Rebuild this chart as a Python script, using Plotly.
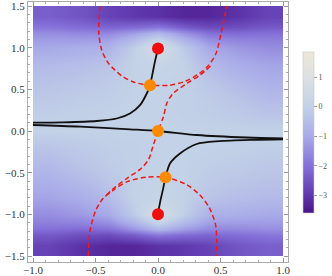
import plotly.graph_objects as go

# ---- density grid (cell edges and estimated cell values) ----
x_edges = [-1.0, -0.75, -0.5, -0.3, -0.1, 0.1, 0.3, 0.5, 0.75, 1.0]
y_edges = [-1.5, -1.25, -1.1, -0.9, -0.7, -0.5, -0.3, -0.1, 0.1, 0.3, 0.5, 0.7, 0.9, 1.1, 1.25, 1.5]
z_values = [
    [-2.8, -3.1, -3.3, -3.3, -3.1, -3.0, -2.8, -2.5, -2.3],    # y=-1.375
    [-2.0, -2.1, -2.0, -1.4, -0.7, -1.2, -1.6, -1.6, -1.5],    # y=-1.175
    [-1.5, -1.3, -1.0, -0.2, 0.8, -0.1, -0.8, -0.9, -1.0],     # y=-1.0
    [-1.1, -0.9, -0.55, 0.0, 0.15, 0.0, -0.35, -0.5, -0.6],    # y=-0.8
    [-0.85, -0.6, -0.3, 0.0, 0.05, 0.0, -0.2, -0.3, -0.4],     # y=-0.6
    [-0.6, -0.35, -0.15, -0.05, 0.0, 0.0, -0.1, -0.15, -0.25], # y=-0.4
    [-0.35, -0.2, -0.1, -0.05, 0.0, 0.0, 0.0, -0.05, -0.1],    # y=-0.2
    [0.0, 0.0, 0.0, 0.0, 0.0, 0.0, 0.0, 0.0, 0.0],             # y=0.0
    [-0.1, -0.05, 0.0, 0.0, 0.0, -0.05, -0.1, -0.2, -0.35],    # y=0.2
    [-0.25, -0.15, -0.1, 0.0, 0.0, -0.05, -0.15, -0.35, -0.6], # y=0.4
    [-0.4, -0.3, -0.2, 0.0, 0.05, 0.0, -0.3, -0.6, -0.85],     # y=0.6
    [-0.6, -0.5, -0.35, 0.0, 0.15, 0.0, -0.55, -0.9, -1.1],    # y=0.8
    [-1.0, -0.9, -0.8, -0.1, 0.8, -0.2, -1.0, -1.3, -1.5],     # y=1.0
    [-1.5, -1.6, -1.6, -1.2, -0.7, -1.4, -2.0, -2.1, -2.0],    # y=1.175
    [-2.3, -2.5, -2.8, -3.0, -3.1, -3.3, -3.3, -3.1, -2.8],    # y=1.375
]
z_min, z_max = -3.6, 1.85
cbar_ticks = [-3, -2, -1, 0, 1]

# ---- steepest-descent paths (black) ----
path_a_x = [-1.0, -0.76, -0.49, -0.33, -0.224, -0.144, -0.09, -0.064, -0.045, -0.025, 0.0]
path_a_y = [0.10, 0.104, 0.12, 0.15, 0.21, 0.31, 0.45, 0.55, 0.68, 0.83, 0.99]
path_b_x = [-1.0, -0.62, -0.224, 0.0, 0.31, 0.71, 1.0]
path_b_y = [0.072, 0.052, 0.02, 0.0, -0.048, -0.078, -0.088]
path_c_x = [0.0, 0.02, 0.04, 0.06, 0.096, 0.176, 0.31, 0.49, 0.76, 1.0]
path_c_y = [-0.99, -0.83, -0.7, -0.556, -0.39, -0.27, -0.156, -0.122, -0.106, -0.1]

# ---- level curves (red dashed) ----
lvl_upper_x = [-0.464, -0.474, -0.45, -0.40, -0.344, -0.28, -0.2, -0.09, 0.096, 0.224, 0.33, 0.40, 0.464, 0.504, 0.538, 0.55]
lvl_upper_y = [1.5, 1.18, 0.97, 0.82, 0.73, 0.65, 0.59, 0.552, 0.55, 0.6, 0.69, 0.78, 0.93, 1.17, 1.41, 1.5]
lvl_mid_x = [0.42, 0.336, 0.23, 0.12, 0.07, 0.043, 0.0, -0.04, -0.075, -0.135, -0.24, -0.34, -0.42]
lvl_mid_y = [0.78, 0.67, 0.57, 0.45, 0.33, 0.17, 0.0, -0.18, -0.34, -0.45, -0.56, -0.67, -0.78]
lvl_lower_x = [-0.558, -0.544, -0.50, -0.44, -0.357, -0.25, -0.09, 0.06, 0.224, 0.33, 0.41, 0.46, 0.47, 0.464]
lvl_lower_y = [-1.5, -1.2, -0.96, -0.81, -0.71, -0.61, -0.553, -0.556, -0.64, -0.76, -0.92, -1.12, -1.32, -1.5]

# ---- special points ----
pole_x = [0.0, 0.0]
pole_y = [0.99, -1.0]
saddle_x = [-0.064, 0.0, 0.06]
saddle_y = [0.55, 0.0, -0.556]

colorscale = [
    [0.0, "#4a1486"],
    [0.11, "#5f38ad"],
    [0.294, "#8470d8"],
    [0.477, "#a8aae8"],
    [0.661, "#c3d2e7"],
    [0.844, "#dde0e3"],
    [1.0, "#efe7d6"],
]

fig = go.Figure()
fig.add_trace(go.Heatmap(
    x=x_edges, y=y_edges, z=z_values, zmin=z_min, zmax=z_max,
    zsmooth="best", colorscale=colorscale,
    colorbar=dict(
        x=1.0577, xanchor="left", xpad=0, y=0.498, yanchor="middle", ypad=0,
        thickness=11, len=161, lenmode="pixels",
        outlinecolor="#c8c8c8", outlinewidth=0.6,
        tickvals=cbar_ticks, ticks="outside", ticklen=3, tickcolor="#999999",
        tickfont=dict(family="Liberation Serif", size=8, color="#555555"),
    ),
    hoverinfo="skip",
))

def line(xs, ys, color, dash=None, width=1.8):
    fig.add_trace(go.Scatter(x=xs, y=ys, mode="lines",
                             line=dict(color=color, width=width, dash=dash, shape="spline", smoothing=0.8),
                             showlegend=False, hoverinfo="skip"))

line(path_a_x, path_a_y, "#111111")
line(path_b_x, path_b_y, "#111111")
line(path_c_x, path_c_y, "#111111")
line(lvl_upper_x, lvl_upper_y, "#f01818", dash="5px,3px", width=1.5)
line(lvl_mid_x, lvl_mid_y, "#f01818", dash="5px,3px", width=1.5)
line(lvl_lower_x, lvl_lower_y, "#f01818", dash="5px,3px", width=1.5)

fig.add_trace(go.Scatter(x=pole_x, y=pole_y, mode="markers",
                         marker=dict(color="#f20d0d", size=12), showlegend=False, hoverinfo="skip"))
fig.add_trace(go.Scatter(x=saddle_x, y=saddle_y, mode="markers",
                         marker=dict(color="#ff8a00", size=12), showlegend=False, hoverinfo="skip"))

axis_common = dict(
    showline=True, linecolor="#aaaaaa", linewidth=1, mirror="ticks",
    ticks="inside", ticklen=4, tickcolor="#999999",
    showgrid=False, zeroline=False, tickformat=".1f", ticklabeloverflow="allow",
    tickfont=dict(family="Liberation Serif", size=11, color="#333333"),
)
fig.update_xaxes(range=[-1.04, 1.04], dtick=0.5, tick0=0, ticklabelstandoff=-2,
                 minor=dict(ticks="inside", ticklen=2, dtick=0.1, tickcolor="#aaaaaa"),
                 **axis_common)
fig.update_yaxes(range=[-1.572, 1.548], dtick=0.5, tick0=0,
                 minor=dict(ticks="inside", ticklen=2, dtick=0.1, tickcolor="#aaaaaa"),
                 **axis_common)

fig.update_layout(
    width=332, height=276,
    margin=dict(l=28, r=44, t=2, b=14, autoexpand=False),
    paper_bgcolor="white", plot_bgcolor="white",
    showlegend=False,
)

fig.write_html("out.html", config={"displayModeBar": False},
               post_script="document.body.style.margin='0';")
